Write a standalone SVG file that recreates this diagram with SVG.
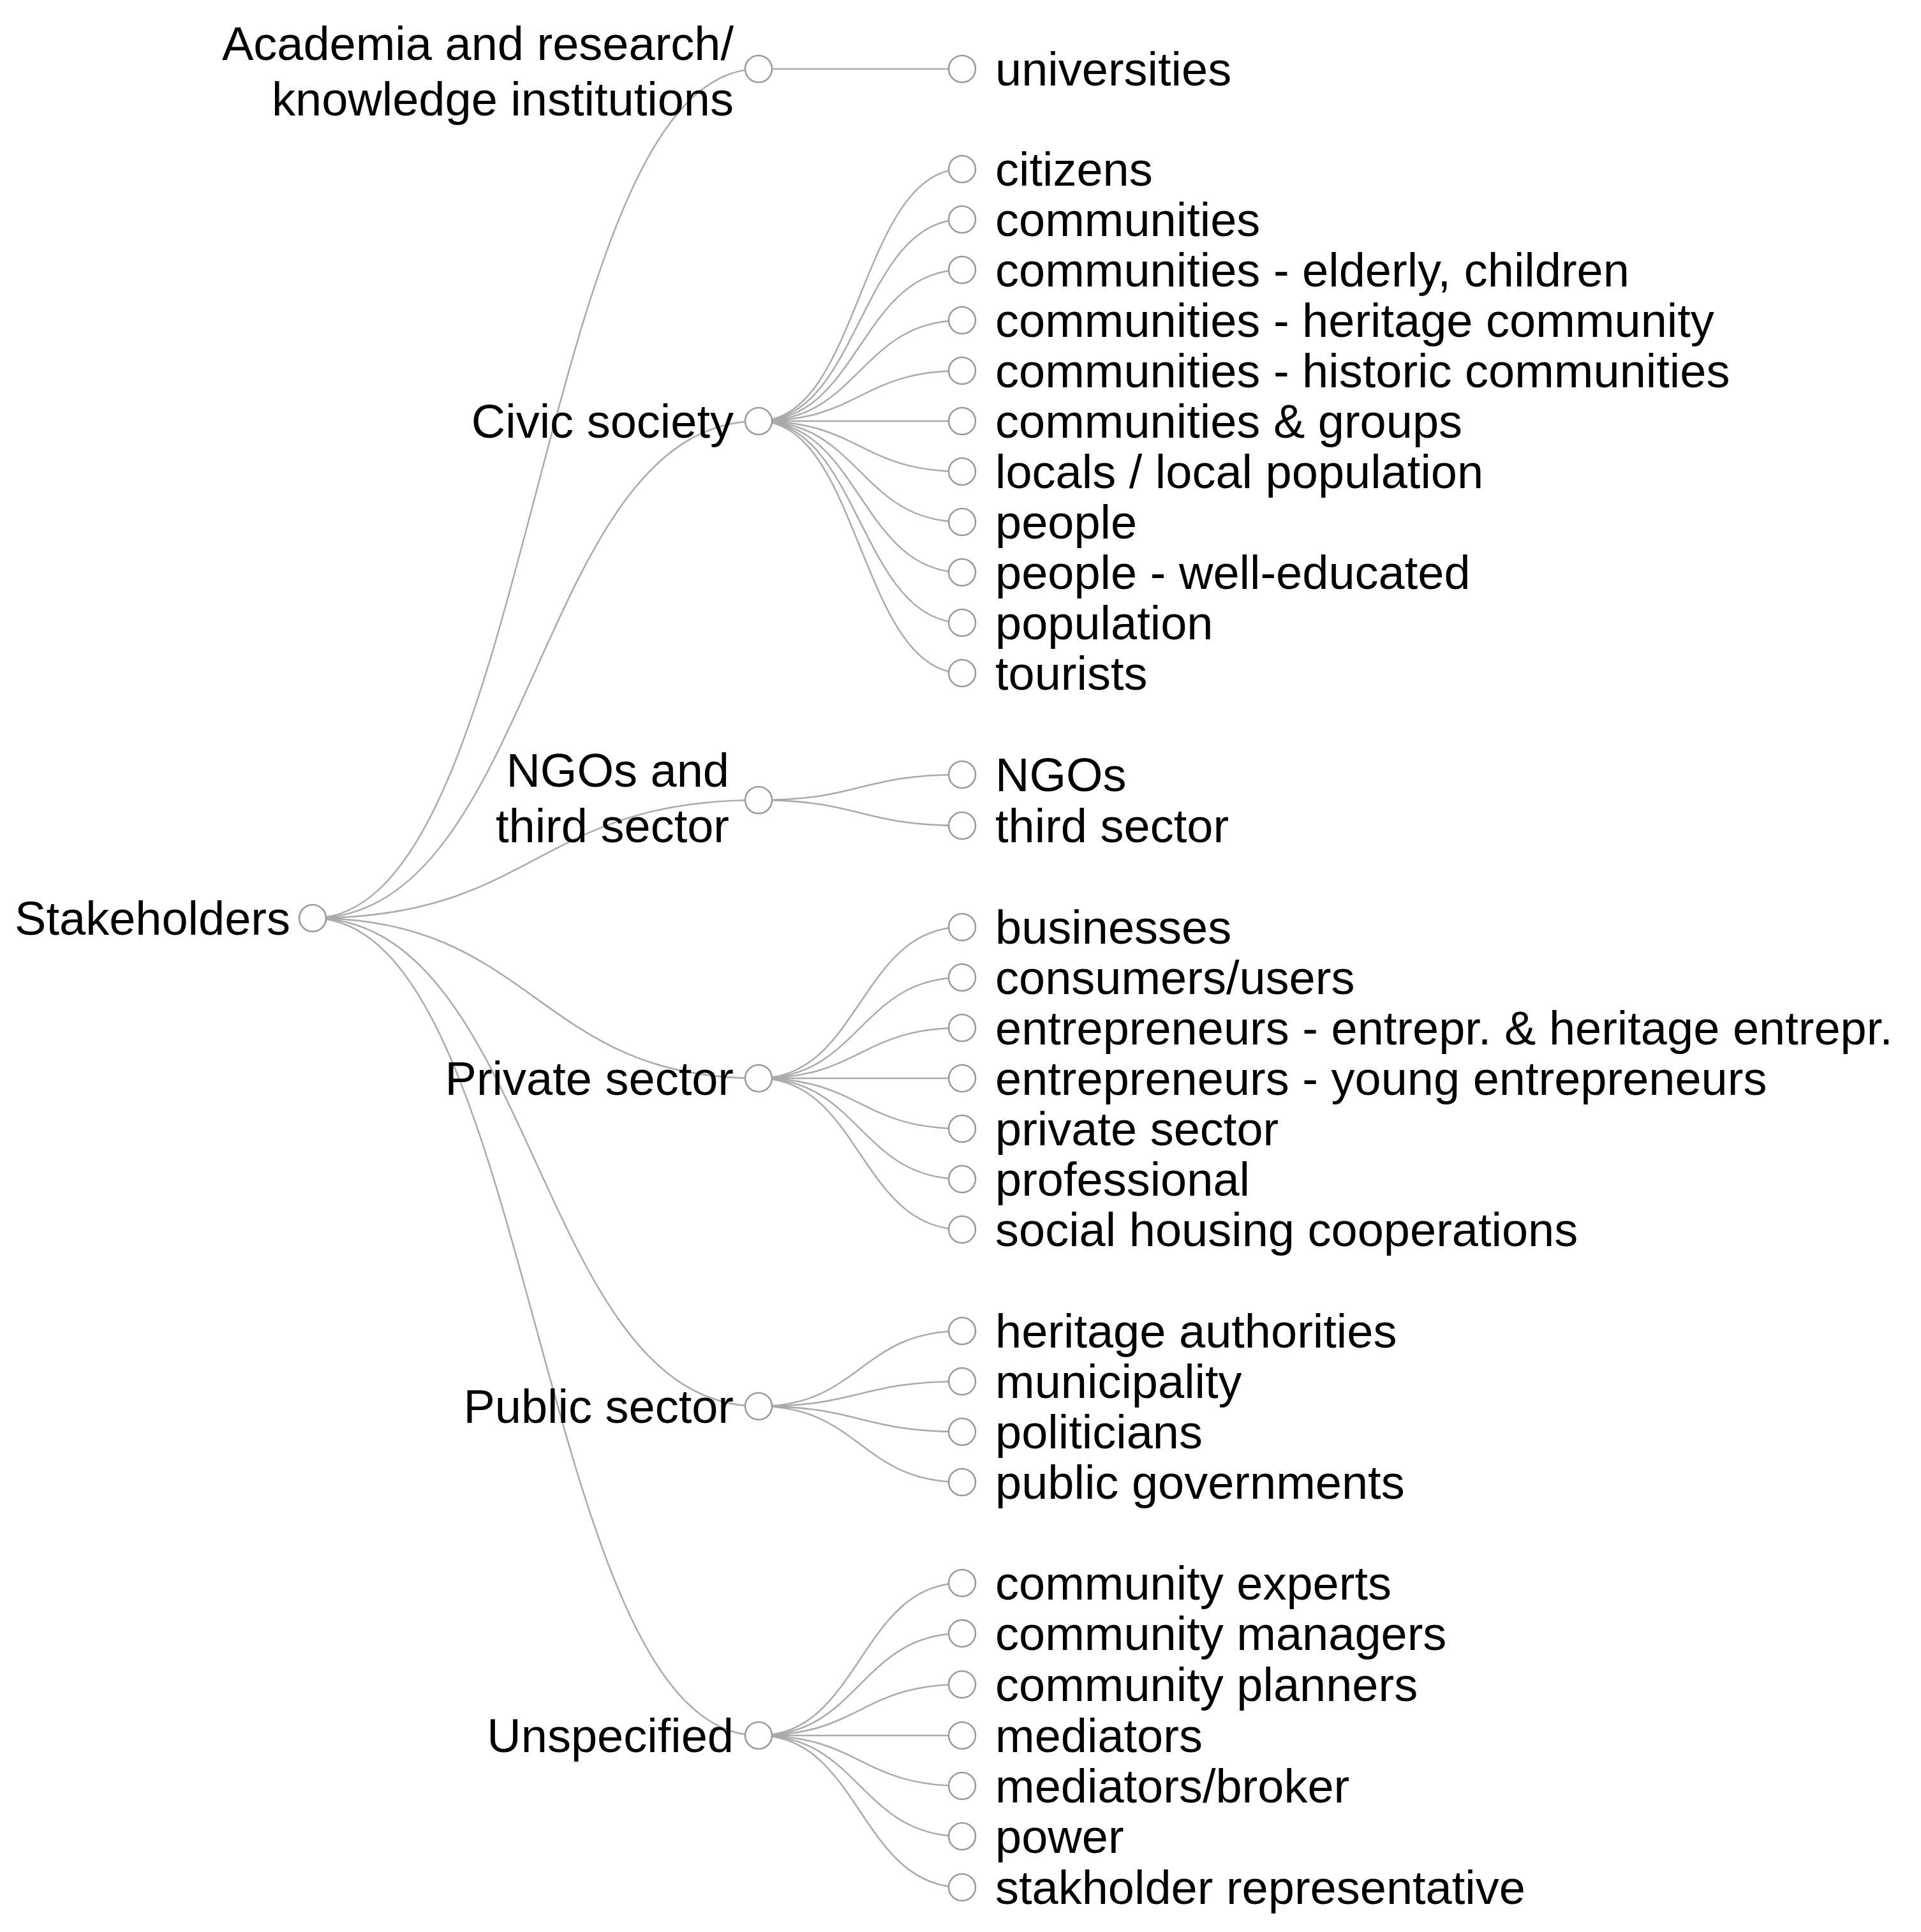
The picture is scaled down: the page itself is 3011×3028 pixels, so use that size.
<svg xmlns="http://www.w3.org/2000/svg" width="3011" height="3028" viewBox="0 0 3011 3028">
<style>
text{font-family:"Liberation Sans",Arial,sans-serif;font-size:74px;fill:#000}
.r{text-anchor:end}
.l path{fill:none;stroke:#aaa;stroke-width:2.5}
circle{fill:#fff;stroke:#999;stroke-width:2.5}
</style>
<rect width="3011" height="3028" fill="#fff"/>
<g class="l" id="links">
<path d="M490,1439C840,1439 840,108 1189,108"/>
<path d="M490,1439C840,1439 840,660 1189,660"/>
<path d="M490,1439C840,1439 840,1254 1189,1254"/>
<path d="M490,1439C840,1439 840,1690 1189,1690"/>
<path d="M490,1439C840,1439 840,2204 1189,2204"/>
<path d="M490,1439C840,1439 840,2720 1189,2720"/>
<path d="M1189,108C1348,108 1348,108 1508,108"/>
<path d="M1189,660C1348,660 1348,265 1508,265"/>
<path d="M1189,660C1348,660 1348,344 1508,344"/>
<path d="M1189,660C1348,660 1348,423 1508,423"/>
<path d="M1189,660C1348,660 1348,502 1508,502"/>
<path d="M1189,660C1348,660 1348,581 1508,581"/>
<path d="M1189,660C1348,660 1348,660 1508,660"/>
<path d="M1189,660C1348,660 1348,739 1508,739"/>
<path d="M1189,660C1348,660 1348,818 1508,818"/>
<path d="M1189,660C1348,660 1348,897 1508,897"/>
<path d="M1189,660C1348,660 1348,976 1508,976"/>
<path d="M1189,660C1348,660 1348,1055 1508,1055"/>
<path d="M1189,1254C1348,1254 1348,1214 1508,1214"/>
<path d="M1189,1254C1348,1254 1348,1294 1508,1294"/>
<path d="M1189,1690C1348,1690 1348,1453 1508,1453"/>
<path d="M1189,1690C1348,1690 1348,1532 1508,1532"/>
<path d="M1189,1690C1348,1690 1348,1611 1508,1611"/>
<path d="M1189,1690C1348,1690 1348,1690 1508,1690"/>
<path d="M1189,1690C1348,1690 1348,1769 1508,1769"/>
<path d="M1189,1690C1348,1690 1348,1848 1508,1848"/>
<path d="M1189,1690C1348,1690 1348,1927 1508,1927"/>
<path d="M1189,2204C1348,2204 1348,2086 1508,2086"/>
<path d="M1189,2204C1348,2204 1348,2165 1508,2165"/>
<path d="M1189,2204C1348,2204 1348,2244 1508,2244"/>
<path d="M1189,2204C1348,2204 1348,2323 1508,2323"/>
<path d="M1189,2720C1348,2720 1348,2481 1508,2481"/>
<path d="M1189,2720C1348,2720 1348,2560 1508,2560"/>
<path d="M1189,2720C1348,2720 1348,2640 1508,2640"/>
<path d="M1189,2720C1348,2720 1348,2720 1508,2720"/>
<path d="M1189,2720C1348,2720 1348,2799 1508,2799"/>
<path d="M1189,2720C1348,2720 1348,2878 1508,2878"/>
<path d="M1189,2720C1348,2720 1348,2958 1508,2958"/>
</g>
<g id="root"><circle cx="490" cy="1439" r="21"/><text class="r" x="455" y="1465">Stakeholders</text></g>
<g id="academia"><circle cx="1189" cy="108" r="21"/><text class="r" x="1150" y="94">Academia and research/</text><text class="r" x="1150" y="181">knowledge institutions</text></g>
<g id="civic"><circle cx="1189" cy="660" r="21"/><text class="r" x="1150" y="686">Civic society</text></g>
<g id="ngos"><circle cx="1189" cy="1254" r="21"/><text class="r" x="1143" y="1233">NGOs and</text><text class="r" x="1143" y="1320">third sector</text></g>
<g id="private"><circle cx="1189" cy="1690" r="21"/><text class="r" x="1150" y="1716">Private sector</text></g>
<g id="public"><circle cx="1189" cy="2204" r="21"/><text class="r" x="1150" y="2230">Public sector</text></g>
<g id="unspecified"><circle cx="1189" cy="2720" r="21"/><text class="r" x="1150" y="2746">Unspecified</text></g>
<g id="l1"><circle cx="1508" cy="108" r="21"/><text x="1560" y="134">universities</text></g>
<g id="l2"><circle cx="1508" cy="265" r="21"/><text x="1560" y="291">citizens</text></g>
<g id="l3"><circle cx="1508" cy="344" r="21"/><text x="1560" y="370">communities</text></g>
<g id="l4"><circle cx="1508" cy="423" r="21"/><text x="1560" y="449">communities - elderly, children</text></g>
<g id="l5"><circle cx="1508" cy="502" r="21"/><text x="1560" y="528">communities - heritage community</text></g>
<g id="l6"><circle cx="1508" cy="581" r="21"/><text x="1560" y="607">communities - historic communities</text></g>
<g id="l7"><circle cx="1508" cy="660" r="21"/><text x="1560" y="686">communities &amp; groups</text></g>
<g id="l8"><circle cx="1508" cy="739" r="21"/><text x="1560" y="765">locals / local population</text></g>
<g id="l9"><circle cx="1508" cy="818" r="21"/><text x="1560" y="844">people</text></g>
<g id="l10"><circle cx="1508" cy="897" r="21"/><text x="1560" y="923">people - well-educated</text></g>
<g id="l11"><circle cx="1508" cy="976" r="21"/><text x="1560" y="1002">population</text></g>
<g id="l12"><circle cx="1508" cy="1055" r="21"/><text x="1560" y="1081">tourists</text></g>
<g id="l13"><circle cx="1508" cy="1214" r="21"/><text x="1560" y="1240">NGOs</text></g>
<g id="l14"><circle cx="1508" cy="1294" r="21"/><text x="1560" y="1320">third sector</text></g>
<g id="l15"><circle cx="1508" cy="1453" r="21"/><text x="1560" y="1479">businesses</text></g>
<g id="l16"><circle cx="1508" cy="1532" r="21"/><text x="1560" y="1558">consumers/users</text></g>
<g id="l17"><circle cx="1508" cy="1611" r="21"/><text x="1560" y="1637">entrepreneurs - entrepr. &amp; heritage entrepr.</text></g>
<g id="l18"><circle cx="1508" cy="1690" r="21"/><text x="1560" y="1716">entrepreneurs - young entrepreneurs</text></g>
<g id="l19"><circle cx="1508" cy="1769" r="21"/><text x="1560" y="1795">private sector</text></g>
<g id="l20"><circle cx="1508" cy="1848" r="21"/><text x="1560" y="1874">professional</text></g>
<g id="l21"><circle cx="1508" cy="1927" r="21"/><text x="1560" y="1953">social housing cooperations</text></g>
<g id="l22"><circle cx="1508" cy="2086" r="21"/><text x="1560" y="2112">heritage authorities</text></g>
<g id="l23"><circle cx="1508" cy="2165" r="21"/><text x="1560" y="2191">municipality</text></g>
<g id="l24"><circle cx="1508" cy="2244" r="21"/><text x="1560" y="2270">politicians</text></g>
<g id="l25"><circle cx="1508" cy="2323" r="21"/><text x="1560" y="2349">public governments</text></g>
<g id="l26"><circle cx="1508" cy="2481" r="21"/><text x="1560" y="2507">community experts</text></g>
<g id="l27"><circle cx="1508" cy="2560" r="21"/><text x="1560" y="2586">community managers</text></g>
<g id="l28"><circle cx="1508" cy="2640" r="21"/><text x="1560" y="2666">community planners</text></g>
<g id="l29"><circle cx="1508" cy="2720" r="21"/><text x="1560" y="2746">mediators</text></g>
<g id="l30"><circle cx="1508" cy="2799" r="21"/><text x="1560" y="2825">mediators/broker</text></g>
<g id="l31"><circle cx="1508" cy="2878" r="21"/><text x="1560" y="2904">power</text></g>
<g id="l32"><circle cx="1508" cy="2958" r="21"/><text x="1560" y="2984">stakholder representative</text></g>
</svg>
